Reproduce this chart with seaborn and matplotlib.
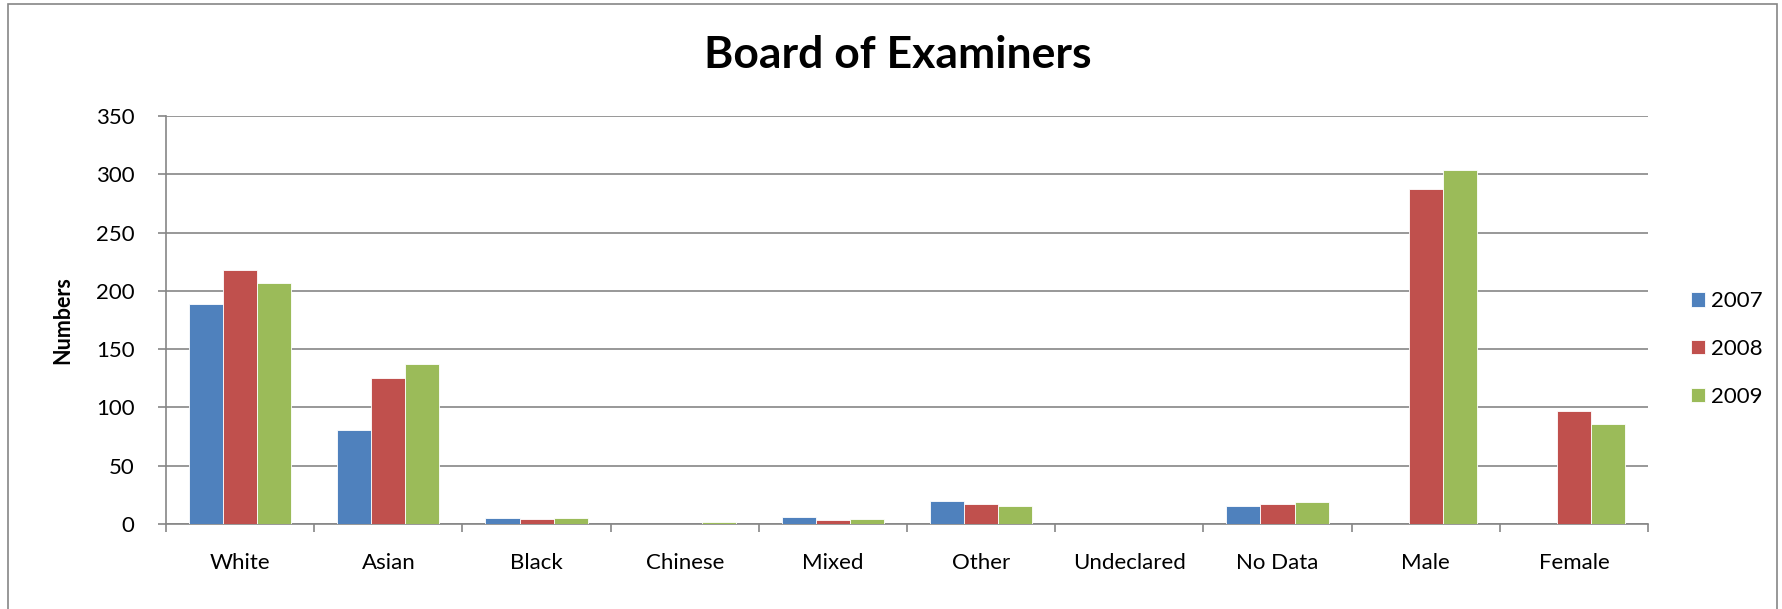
import numpy as np
import pandas as pd
import matplotlib
matplotlib.use("Agg")
import matplotlib.pyplot as plt
import seaborn as sns
from matplotlib.patches import Rectangle

categories = ["White", "Asian", "Black", "Chinese", "Mixed", "Other",
              "Undeclared", "No Data", "Male", "Female"]
years = ["2007", "2008", "2009"]
v2007 = [189, 81, 5, 0, 6, 20, 0, 15, 0, 0]
v2008 = [218, 125, 4, 0, 3, 17, 0, 17, 287, 97]
v2009 = [207, 137, 5, 2, 4, 15, 0, 19, 304, 86]
colors = ["#4F81BD", "#C0504D", "#9BBB59"]

df = pd.DataFrame({
    "Category": categories * 3,
    "Year": np.repeat(years, len(categories)),
    "Value": v2007 + v2008 + v2009,
})

sns.set_theme(style="white")
plt.rcParams["font.family"] = ["Lato", "DejaVu Sans"]
plt.rcParams["text.color"] = "black"
plt.rcParams["axes.labelcolor"] = "black"

fig = plt.figure(figsize=(17.82, 6.09), dpi=100)
ax = fig.add_axes([0.0932, 0.1396, 0.8316, 0.67])

sns.barplot(data=df, x="Category", y="Value", hue="Year", palette=colors,
            width=0.69, saturation=1, ax=ax, zorder=3,
            edgecolor="white", linewidth=0.6)

ax.set_ylim(0, 350)
ax.set_yticks(range(0, 351, 50))
ax.set_xlim(-0.5, len(categories) - 0.5)
ax.yaxis.grid(True, color="#868686", linewidth=1.2, zorder=0)
ax.xaxis.grid(False)
for side in ["top", "right"]:
    ax.spines[side].set_visible(False)
for side in ["left", "bottom"]:
    ax.spines[side].set_color("#868686")
    ax.spines[side].set_linewidth(1.2)

ax.tick_params(axis="y", length=5.8, width=1.2, color="#868686", left=True,
               labelsize=16, pad=17, labelcolor="black")
ax.tick_params(axis="x", which="major", length=0, labelsize=16, pad=21,
               labelcolor="black")
ax.set_xticks(np.arange(-0.5, len(categories)), minor=True)
ax.tick_params(axis="x", which="minor", length=6, width=1.2,
               color="#868686", bottom=True)

ax.set_xlabel("")
ax.set_ylabel("Numbers", fontsize=15.5, fontweight="bold", labelpad=16)
fig.text(0.504, 1 - 68 / 609, "Board of Examiners", fontsize=32,
         fontweight="bold", ha="center", va="baseline")

ax.legend(loc="center left", bbox_to_anchor=(1.0153, 0.429), frameon=False,
          fontsize=16, handlelength=0.63, handleheight=0.63, handletextpad=0.3,
          labelspacing=1.25)

fig.add_artist(Rectangle((0.0045, -0.01), 0.9925, 1.0035,
                         transform=fig.transFigure, fill=False,
                         edgecolor="#868686", linewidth=1.2))

fig.savefig("out.png", dpi=100)
